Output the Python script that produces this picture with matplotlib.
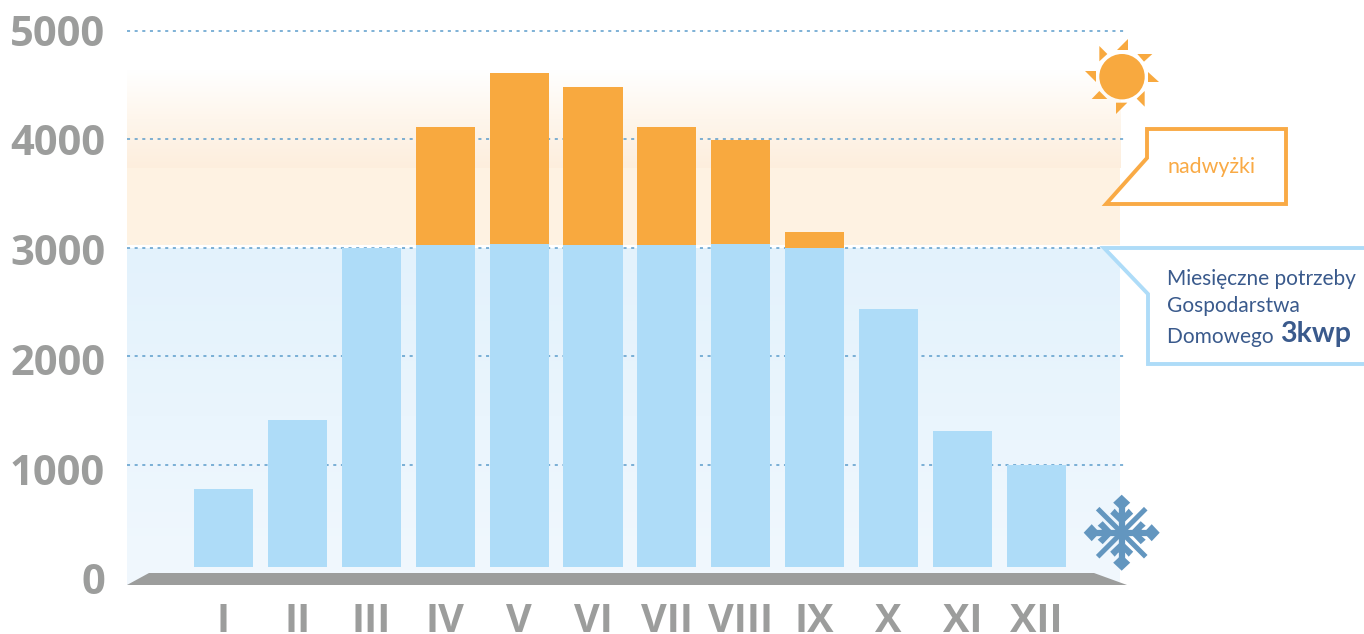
import numpy as np
import matplotlib
matplotlib.use("Agg")
import matplotlib.pyplot as plt
from matplotlib.patches import Polygon, Circle
from matplotlib.colors import LinearSegmentedColormap

plt.rcParams['font.family'] = ['Open Sans', 'DejaVu Sans']

W, H = 1364, 634

months = ['I', 'II', 'III', 'IV', 'V', 'VI', 'VII', 'VIII', 'IX', 'X', 'XI', 'XII']
needs = [775, 1411, 2998, 3026, 3035, 3026, 3026, 3035, 2998, 2435, 1310, 996]
totals = [775, 1411, 2998, 4114, 4613, 4483, 4114, 3994, 3146, 2435, 1310, 996]
bar_base = 55
y_ticks = [0, 1000, 2000, 3000, 4000, 5000]

BLUE = '#aedcf8'
ORANGE = '#f8a93f'
GREY = '#9c9d9c'
NAVY = '#3a5a8c'
DOT = '#5b9ccb'
FLAKE = '#6396bf'

fig = plt.figure(figsize=(W / 100, H / 100), dpi=100)


def pixel_axes(zorder):
    a = fig.add_axes([0, 0, 1, 1], zorder=zorder)
    a.set_xlim(0, W)
    a.set_ylim(H, 0)
    a.axis('off')
    a.patch.set_alpha(0)
    return a


back = pixel_axes(0)
top = pixel_axes(2)

# background bands
fade = LinearSegmentedColormap.from_list('fade', ['#ffffff', '#fef6ec', '#fdeedd'])
cool = LinearSegmentedColormap.from_list('cool', ['#e3f2fc', '#f1f8fe'])
ramp = np.linspace(0, 1, 256).reshape(-1, 1)
back.imshow(ramp, cmap=fade, extent=(127, 1121, 168, 70), aspect='auto', zorder=1)
back.add_patch(Polygon([(127, 168), (1120, 168), (1120, 245), (127, 245)], fc='#fef2e2', ec='none', zorder=1))
back.imshow(ramp, cmap=cool, extent=(127, 1120, 585, 248), aspect='auto', zorder=1)
back.set_xlim(0, W)
back.set_ylim(H, 0)

# floor
back.add_patch(Polygon([(127, 585), (149, 573), (1094, 573), (1127, 585)], fc=GREY, ec='none', zorder=2))

# main chart
ax = fig.add_axes([127 / W, 1 - 573 / H, 997 / W, 542 / H], zorder=1)
ax.patch.set_alpha(0)
for s in ax.spines.values():
    s.set_visible(False)
x = np.arange(len(months))
ax.bar(x, np.array(totals) - bar_base, 0.8, bottom=bar_base, color=ORANGE, zorder=3)
ax.bar(x, np.array(needs) - bar_base, 0.8, bottom=bar_base, color=BLUE, zorder=4)
ax.set_xlim(-1.306, 12.185)
ax.set_ylim(0, 5000)
ax.set_yticks(y_ticks[1:])
ax.set_yticklabels([])
ax.grid(axis='y', color=DOT, lw=1.1, linestyle=(0, (2, 3)), zorder=1)
for g in ax.get_ygridlines():
    g.set_clip_on(False)
ax.set_axisbelow(True)
ax.set_xticks(x)
ax.set_xticklabels(months, fontsize=28.5, fontweight='bold', color=GREY)
ax.tick_params(length=0, pad=21)

# y labels sit a little off the gridlines in the original
for v in y_ticks:
    top.text(105, 579 - 0.1098 * v, str(v), fontsize=30, fontweight='bold', color=GREY,
             ha='right', va='center_baseline')

# callouts
top.add_patch(Polygon([(1147, 129), (1286, 129), (1286, 204), (1106, 204), (1147, 158)],
                      fc='white', ec='#f9aa45', lw=2.8, joinstyle='miter'))
top.text(1212, 167, 'nadwyżki', fontsize=15.4, family='Lato', color='#f9aa45', ha='center', va='center')
top.add_patch(Polygon([(1104, 248), (1370, 248), (1370, 364), (1148, 364), (1148, 294)],
                      fc='white', ec=BLUE, lw=2.8, joinstyle='miter'))
top.text(1167, 279, 'Miesięczne potrzeby', fontsize=15, family='Lato', color=NAVY, va='center')
top.text(1167, 306, 'Gospodarstwa', fontsize=15, family='Lato', color=NAVY, va='center')
t = top.text(1167, 337, 'Domowego ', fontsize=15, family='Lato', color=NAVY, va='center')
top.annotate('3kwp', xy=(1.01, 0), xycoords=t, va='bottom', fontsize=20.5, family='Lato', fontweight='bold', color=NAVY)

# sun
top.add_patch(Circle((1122, 76.7), 22.7, fc=ORANGE, ec='none'))
rays = [[(170, 90), (204, 90), (204, 57)], [(232, 102), (277, 102), (252, 125)],
        [(264, 155), (264, 187), (298, 187)], [(254, 213), (254, 260), (230, 236)],
        [(168, 248), (202, 248), (168, 282)], [(95, 237), (142, 237), (118, 213)],
        [(74, 153), (108, 153), (108, 187)], [(118, 78), (142, 102), (118, 124)]]
for r in rays:
    top.add_patch(Polygon([(1060 + a / 3, 20 + b / 3) for a, b in r], fc=ORANGE, ec='none'))

# snowflake
cx, cy = 1121.7, 532.7
for ang in np.arange(0, 360, 90):
    c, s = np.cos(np.radians(ang)), np.sin(np.radians(ang))


    def rot(px, py):
        return (cx + px * c - py * s, cy + px * s + py * c)


    top.plot(*zip(rot(0, 0), rot(30, 0)), color=FLAKE, lw=4.5, solid_capstyle='butt')
    top.add_patch(Polygon([rot(22, 0), rot(30, -8.5), rot(38, 0), rot(30, 8.5)], fc=FLAKE, ec='none'))
    top.add_patch(Polygon([rot(8, 0), rot(19, -11.5), rot(24, -7), rot(20, -3.5), rot(20, 3.5), rot(24, 7), rot(19, 11.5)],
                          fc=FLAKE, ec='none'))
    a = np.radians(ang + 45)
    top.plot([cx, cx + 34 * np.cos(a)], [cy, cy + 34 * np.sin(a)], color=FLAKE, lw=3.6, solid_capstyle='butt')

top.set_xlim(0, W)
top.set_ylim(H, 0)

fig.savefig('out.png', dpi=100)
